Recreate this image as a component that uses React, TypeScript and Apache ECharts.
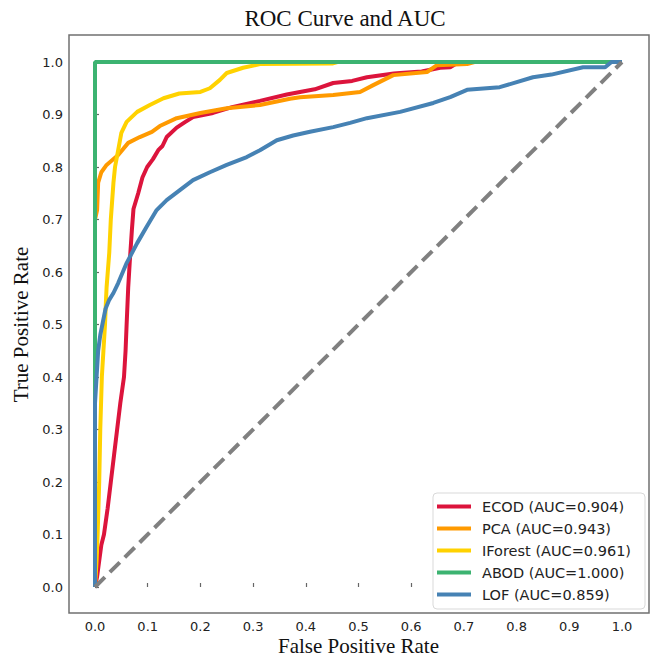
import React, { useEffect, useRef } from "react";
import * as echarts from "echarts";

const seriesNames = [
  "ECOD (AUC=0.904)",
  "PCA (AUC=0.943)",
  "IForest (AUC=0.961)",
  "ABOD (AUC=1.000)",
  "LOF (AUC=0.859)",
];
const seriesColors = ["#dc143c", "#ff9a00", "#ffd200", "#3cb371", "#4682b4"];

const ecodX = [0, 0.004, 0.008, 0.012, 0.017, 0.024, 0.03, 0.036, 0.042, 0.048, 0.055, 0.058, 0.06, 0.063, 0.066, 0.07, 0.073, 0.082, 0.09, 0.099, 0.11, 0.12, 0.128, 0.136, 0.155, 0.17, 0.186, 0.224, 0.26, 0.313, 0.364, 0.389, 0.417, 0.452, 0.488, 0.516, 0.567, 0.579, 0.62, 0.655, 0.674, 0.69, 1];
const ecodY = [0, 0.02, 0.05, 0.08, 0.1, 0.15, 0.2, 0.25, 0.3, 0.35, 0.4, 0.45, 0.5, 0.57, 0.62, 0.68, 0.72, 0.75, 0.78, 0.8, 0.815, 0.832, 0.84, 0.857, 0.875, 0.885, 0.895, 0.903, 0.914, 0.926, 0.938, 0.943, 0.948, 0.96, 0.964, 0.971, 0.978, 0.979, 0.982, 0.989, 0.99, 1.0, 1.0];

const pcaX = [0, 0, 0.004, 0.006, 0.012, 0.022, 0.044, 0.063, 0.085, 0.108, 0.123, 0.155, 0.2, 0.25, 0.313, 0.37, 0.389, 0.452, 0.503, 0.528, 0.566, 0.63, 0.649, 0.706, 0.72, 1];
const pcaY = [0, 0.7, 0.718, 0.77, 0.79, 0.804, 0.823, 0.846, 0.857, 0.867, 0.878, 0.893, 0.903, 0.912, 0.918, 0.93, 0.933, 0.937, 0.943, 0.956, 0.975, 0.981, 0.994, 0.996, 1.0, 1.0];

const iforestX = [0, 0.003, 0.005, 0.008, 0.01, 0.013, 0.016, 0.019, 0.021, 0.022, 0.027, 0.03, 0.035, 0.038, 0.044, 0.05, 0.06, 0.08, 0.104, 0.13, 0.16, 0.2, 0.218, 0.237, 0.25, 0.281, 0.313, 0.45, 0.46, 1];
const iforestY = [0, 0.05, 0.1, 0.2, 0.3, 0.4, 0.45, 0.5, 0.55, 0.571, 0.636, 0.7, 0.77, 0.8, 0.832, 0.865, 0.886, 0.905, 0.918, 0.931, 0.94, 0.943, 0.95, 0.966, 0.979, 0.989, 0.996, 0.997, 1.0, 1.0];

const abodX = [0, 0, 1];
const abodY = [0, 1, 1];

const lofX = [0, 0, 0.003, 0.006, 0.01, 0.014, 0.02, 0.027, 0.035, 0.044, 0.06, 0.08, 0.098, 0.117, 0.136, 0.161, 0.186, 0.218, 0.25, 0.288, 0.313, 0.345, 0.376, 0.408, 0.452, 0.484, 0.516, 0.579, 0.642, 0.674, 0.706, 0.768, 0.831, 0.866, 0.926, 0.968, 0.98, 1];
const lofY = [0, 0.35, 0.4, 0.45, 0.48, 0.5, 0.53, 0.547, 0.56, 0.579, 0.617, 0.655, 0.686, 0.718, 0.737, 0.756, 0.775, 0.79, 0.804, 0.819, 0.832, 0.851, 0.86, 0.867, 0.876, 0.884, 0.893, 0.905, 0.922, 0.933, 0.947, 0.952, 0.971, 0.976, 0.99, 0.99, 1.0, 1.0];

const diagX = [0, 1];
const diagY = [0, 1];

const curveX = [ecodX, pcaX, iforestX, abodX, lofX];
const curveY = [ecodY, pcaY, iforestY, abodY, lofY];

const zip = (xs: number[], ys: number[]) => xs.map((x, i) => [x, ys[i]]);

export default function App() {
  const ref = useRef<HTMLDivElement>(null);
  useEffect(() => {
    if (!ref.current) return;
    const chart = echarts.init(ref.current, null, { renderer: "svg" });
    const tickLabelStyle = {
      fontFamily: "DejaVu Sans",
      fontSize: 13,
      color: "#222",
      formatter: (v: number) => v.toFixed(1),
    };
    const nameStyle = {
      fontFamily: "Liberation Serif",
      fontSize: 21,
      color: "#111",
    };
    const series: any[] = seriesNames.map((name, i) => ({
      name,
      type: "line",
      data: zip(curveX[i], curveY[i]),
      showSymbol: false,
      symbol: "none",
      clip: false,
      lineStyle: { width: 4, color: seriesColors[i] },
      itemStyle: { color: seriesColors[i] },
      emphasis: { disabled: true },
    }));
    series.push({
      name: "diagonal",
      type: "line",
      data: zip(diagX, diagY),
      showSymbol: false,
      symbol: "none",
      clip: false,
      lineStyle: { width: 4, color: "#808080", type: [14, 7] },
      emphasis: { disabled: true },
    });
    chart.setOption({
      animation: false,
      title: {
        text: "ROC Curve and AUC",
        left: 340,
        textAlign: "center",
        top: 2,
        textStyle: {
          fontFamily: "Liberation Serif",
          fontSize: 23,
          fontWeight: "normal",
          color: "#111",
        },
      },
      grid: { left: 95, right: 30, top: 62, bottom: 74, outerBoundsMode: "none", containLabel: false },
      xAxis: {
        type: "value",
        min: 0,
        max: 1,
        interval: 0.1,
        offset: 26,
        axisLine: { show: false },
        axisTick: { show: true, inside: true, length: 4, lineStyle: { color: "#666", width: 1.2 } },
        axisLabel: { ...tickLabelStyle, margin: 7 },
        splitLine: { show: false },
        name: "False Positive Rate",
        nameLocation: "middle",
        nameGap: 22,
        nameMoveOverlap: false,
        nameTextStyle: nameStyle,
      },
      yAxis: {
        type: "value",
        min: 0,
        max: 1,
        interval: 0.1,
        offset: 26,
        axisLine: { show: false },
        axisTick: { show: true, inside: true, length: 4, lineStyle: { color: "#666", width: 1.2 } },
        axisLabel: { ...tickLabelStyle, margin: 6 },
        splitLine: { show: false },
        name: "True Positive Rate",
        nameLocation: "middle",
        nameGap: 38,
        nameMoveOverlap: false,
        nameTextStyle: nameStyle,
      },
      legend: {
        data: seriesNames,
        orient: "vertical",
        left: 433,
        top: 493,
        icon: "rect",
        itemWidth: 34,
        itemHeight: 4,
        itemGap: 7,
        padding: [6, 14, 7, 4],
        borderColor: "#d9d9d9",
        borderWidth: 1,
        borderRadius: 4,
        backgroundColor: "#ffffff",
        selectedMode: false,
        textStyle: {
          fontFamily: "DejaVu Sans",
          fontSize: 14.5,
          color: "#222",
          lineHeight: 14,
          padding: [0, 0, 0, 6],
        },
      },
      graphic: [
        {
          type: "rect",
          silent: true,
          z: 50,
          shape: { x: 69, y: 35, width: 580, height: 578 },
          style: { fill: "none", stroke: "#707070", lineWidth: 1.5 },
        },
      ],
      series,
    });
    return () => chart.dispose();
  }, []);
  return (
    <div
      ref={ref}
      style={{ position: "fixed", left: 0, top: 0, width: 652, height: 661, background: "#fff" }}
    />
  );
}
